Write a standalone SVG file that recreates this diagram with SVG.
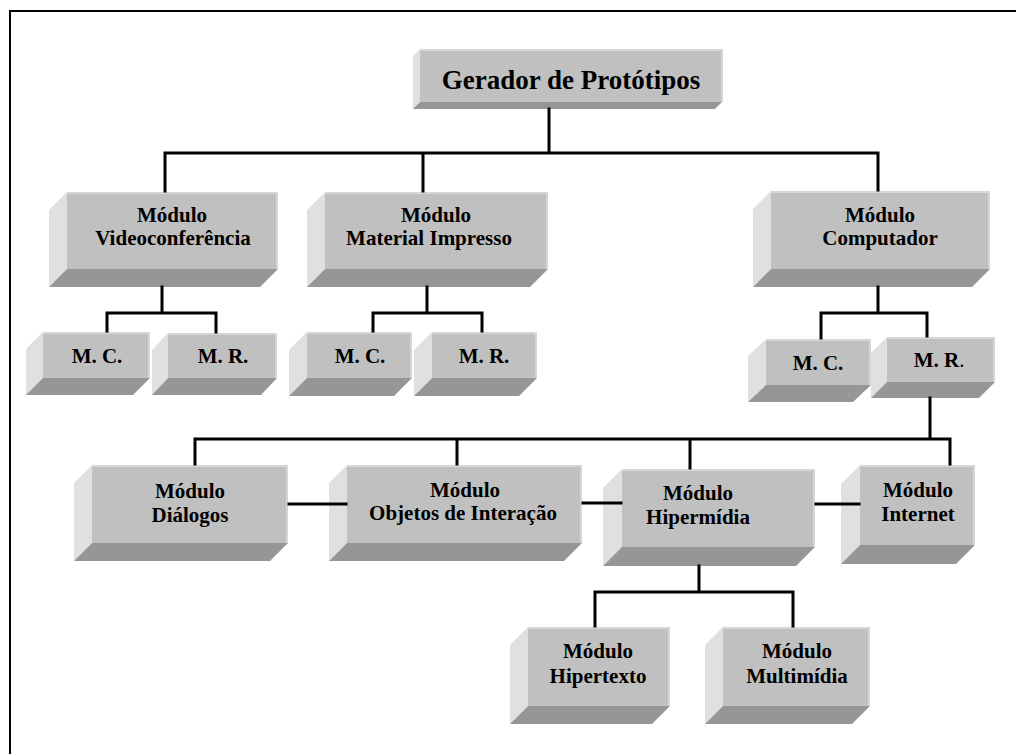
<svg xmlns="http://www.w3.org/2000/svg" width="1016" height="754" viewBox="0 0 1016 754">
<style>
.front{fill:#c0c0c0}
.hl{stroke:#d6d6d6;stroke-width:2;fill:none}
.side{fill:#e0e0e0}
.bot{fill:#969696}
.t{font-family:"Liberation Serif","Times New Roman",serif;font-weight:bold;font-size:21px;fill:#000;text-anchor:middle}
.big{font-size:27px}
.c{stroke:#000;stroke-width:3;fill:none;stroke-linecap:square}
.frame{stroke:#000;stroke-width:2;fill:none}
</style>
<rect width="1016" height="754" fill="#fff"/>
<path class="frame" d="M10,754 V11 H1016"/>
<g id="gerador">
<polygon class="side" points="420,49 420,102 413,109 413,56"/>
<polygon class="bot" points="420,102 722,102 715,109 413,109"/>
<rect class="front" x="420" y="49" width="302" height="53"/>
<path class="hl" d="M420,50 H722 V102"/>
<text class="t big" x="571" y="89">Gerador de Protótipos</text>
</g>
<g id="video">
<polygon class="side" points="67,192 67,269 49,287 49,210"/>
<polygon class="bot" points="67,269 278,269 260,287 49,287"/>
<rect class="front" x="67" y="192" width="211" height="77"/>
<path class="hl" d="M67,193 H277 V269"/>
<text class="t" x="172" y="222">Módulo</text>
<text class="t" x="173" y="245">Videoconferência</text>
</g>
<g id="material">
<polygon class="side" points="325,192 325,269 307,287 307,210"/>
<polygon class="bot" points="325,269 548,269 530,287 307,287"/>
<rect class="front" x="325" y="192" width="223" height="77"/>
<path class="hl" d="M325,193 H547 V269"/>
<text class="t" x="436" y="222">Módulo</text>
<text class="t" x="429" y="245">Material Impresso</text>
</g>
<g id="computador">
<polygon class="side" points="771,191 771,269 753,287 753,209"/>
<polygon class="bot" points="771,269 990,269 972,287 753,287"/>
<rect class="front" x="771" y="191" width="219" height="78"/>
<path class="hl" d="M771,192 H989 V269"/>
<text class="t" x="880" y="222">Módulo</text>
<text class="t" x="880" y="245">Computador</text>
</g>
<g id="vc_mc">
<polygon class="side" points="43,332 43,378 26,395 26,349"/>
<polygon class="bot" points="43,378 150,378 133,395 26,395"/>
<rect class="front" x="43" y="332" width="107" height="46"/>
<path class="hl" d="M43,333 H149 V378"/>
<text class="t" x="97" y="363">M. C.</text>
</g>
<g id="vc_mr">
<polygon class="side" points="168,333 168,378 152,395 152,350"/>
<polygon class="bot" points="168,378 277,378 261,395 152,395"/>
<rect class="front" x="168" y="333" width="109" height="45"/>
<path class="hl" d="M168,334 H276 V378"/>
<text class="t" x="223" y="363">M. R.</text>
</g>
<g id="mi_mc">
<polygon class="side" points="307,332 307,378 289,396 289,350"/>
<polygon class="bot" points="307,378 412,378 394,396 289,396"/>
<rect class="front" x="307" y="332" width="105" height="46"/>
<path class="hl" d="M307,333 H411 V378"/>
<text class="t" x="360" y="363">M. C.</text>
</g>
<g id="mi_mr">
<polygon class="side" points="432,332 432,378 414,396 414,350"/>
<polygon class="bot" points="432,378 537,378 519,396 414,396"/>
<rect class="front" x="432" y="332" width="105" height="46"/>
<path class="hl" d="M432,333 H536 V378"/>
<text class="t" x="484" y="363">M. R.</text>
</g>
<g id="co_mc">
<polygon class="side" points="766,339 766,385 748,402 748,356"/>
<polygon class="bot" points="766,385 871,385 853,402 748,402"/>
<rect class="front" x="766" y="339" width="105" height="46"/>
<path class="hl" d="M766,340 H870 V385"/>
<text class="t" x="818" y="370">M. C.</text>
</g>
<g id="co_mr">
<polygon class="side" points="887,337 887,382 871,398 871,353"/>
<polygon class="bot" points="887,382 995,382 979,398 871,398"/>
<rect class="front" x="887" y="337" width="108" height="45"/>
<path class="hl" d="M887,338 H994 V382"/>
<text class="t" x="939" y="367">M. R<tspan font-weight="normal">.</tspan></text>
</g>
<g id="dialogos">
<polygon class="side" points="92,465 92,543 74,561 74,483"/>
<polygon class="bot" points="92,543 288,543 270,561 74,561"/>
<rect class="front" x="92" y="465" width="196" height="78"/>
<path class="hl" d="M92,466 H287 V543"/>
<text class="t" x="190" y="498">Módulo</text>
<text class="t" x="190" y="522">Diálogos</text>
</g>
<g id="objetos">
<polygon class="side" points="347,465 347,543 329,561 329,483"/>
<polygon class="bot" points="347,543 582,543 564,561 329,561"/>
<rect class="front" x="347" y="465" width="235" height="78"/>
<path class="hl" d="M347,466 H581 V543"/>
<text class="t" x="465" y="497">Módulo</text>
<text class="t" x="463" y="520">Objetos de Interação</text>
</g>
<g id="hipermidia">
<polygon class="side" points="622,469 622,547 603,566 603,488"/>
<polygon class="bot" points="622,547 815,547 796,566 603,566"/>
<rect class="front" x="622" y="469" width="193" height="78"/>
<path class="hl" d="M622,470 H814 V547"/>
<text class="t" x="698" y="500">Módulo</text>
<text class="t" x="698" y="524">Hipermídia</text>
</g>
<g id="internet">
<polygon class="side" points="860,465 860,545 841,564 841,484"/>
<polygon class="bot" points="860,545 975,545 956,564 841,564"/>
<rect class="front" x="860" y="465" width="115" height="80"/>
<path class="hl" d="M860,466 H974 V545"/>
<text class="t" x="918" y="497">Módulo</text>
<text class="t" x="918" y="521">Internet</text>
</g>
<g id="hipertexto">
<polygon class="side" points="528,627 528,706 510,724 510,645"/>
<polygon class="bot" points="528,706 670,706 652,724 510,724"/>
<rect class="front" x="528" y="627" width="142" height="79"/>
<path class="hl" d="M528,628 H669 V706"/>
<text class="t" x="598" y="658">Módulo</text>
<text class="t" x="598" y="683">Hipertexto</text>
</g>
<g id="multimidia">
<polygon class="side" points="723,627 723,706 705,724 705,645"/>
<polygon class="bot" points="723,706 870,706 852,724 705,724"/>
<rect class="front" x="723" y="627" width="147" height="79"/>
<path class="hl" d="M723,628 H869 V706"/>
<text class="t" x="797" y="658">Módulo</text>
<text class="t" x="797" y="683">Multimídia</text>
</g>
<g id="connectors">
<path class="c" d="M549,109 V153 M165,153 H878 M165,153 V191 M423,153 V191 M878,153 V190"/>
<path class="c" d="M162,287 V313 M107,313 H216 M107,313 V331 M216,313 V332"/>
<path class="c" d="M427,287 V313 M373,313 H482 M373,313 V331 M482,313 V331"/>
<path class="c" d="M878,287 V313 M821,313 H927 M821,313 V338 M927,313 V336"/>
<path class="c" d="M930,398 V439 M195,439 H950 M195,439 V464 M457,439 V464 M690,439 V468 M950,439 V464"/>
<path class="c" d="M289,504 H346 M583,503 H621 M816,504 H859"/>
<path class="c" d="M699,566 V592 M595,592 H793 M595,592 V626 M793,592 V626"/>
</g>
</svg>
